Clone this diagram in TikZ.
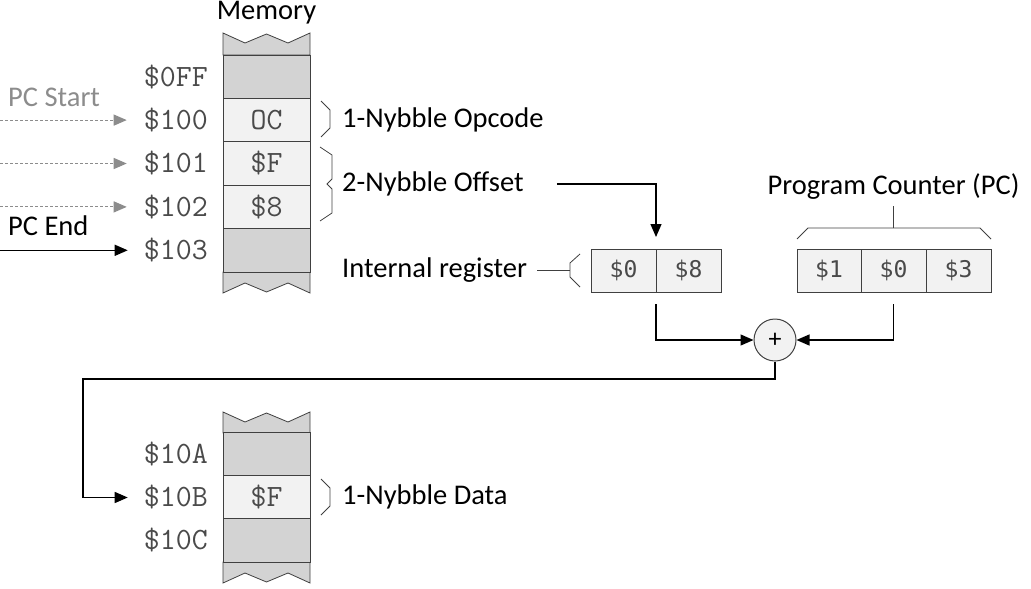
\documentclass[tikz,border=0pt]{standalone}
\usepackage{fontspec}
\setmainfont{Carlito}
\newfontfamily\regf{DejaVu Sans Mono}
\usetikzlibrary{arrows.meta}
\definecolor{dark}{HTML}{D3D3D3}
\definecolor{light}{HTML}{F2F2F2}
\definecolor{edge}{HTML}{404040}
\definecolor{txtg}{HTML}{4A4A4A}
\definecolor{pcgray}{HTML}{8C8C8C}
\begin{document}
\begin{tikzpicture}[x=1pt,y=-1pt,
 cell/.style={draw=edge, line width=1pt, minimum width=87pt, minimum height=43.4pt, inner sep=0pt, outer sep=0pt, font=\ttfamily\fontsize{31}{31}\selectfont, text=txtg},
 darkcell/.style={cell, fill=dark},
 lightcell/.style={cell, fill=light},
 addr/.style={anchor=east, inner sep=0pt, font=\ttfamily\fontsize{31}{31}\selectfont, text=txtg},
 lbl/.style={anchor=west, inner sep=0pt, font=\fontsize{28.5}{30}\selectfont},
 reg/.style={draw=edge, line width=1pt, fill=light, minimum height=43pt, inner sep=0pt, outer sep=0pt, font=\regf\fontsize{23}{23}\selectfont, text=txtg},
 band/.style={fill=dark, draw=edge, line width=0.8pt},
 arr/.style={-{Triangle[length=13pt,width=11pt]}, line width=1.3pt, draw=black},
 garr/.style={-{Triangle[length=13pt,width=11pt]}, line width=1.1pt, draw=pcgray, dash pattern=on 3pt off 2pt},
 thinl/.style={line width=1pt, draw=edge},
]
\useasboundingbox (0,0) rectangle (1031,589);

% ---------- top memory ----------
\node[font=\fontsize{28.5}{30}\selectfont] (memtitle) at (266.5,13) {Memory};
\path[band] (223,55) -- (223,33) -- (245,43) -- (266.5,34) -- (288,43) -- (310,33) -- (310,55) -- cycle;
\path[band] (223,272) -- (223,293) -- (245,283) -- (266.5,292) -- (288,283) -- (310,293) -- (310,272) -- cycle;
\node[darkcell]  (m0ff) at (266.5,76.7) {};
\node[lightcell] (m100) at (266.5,120.1) {OC};
\node[lightcell] (m101) at (266.5,163.5) {\$F};
\node[lightcell] (m102) at (266.5,206.9) {\$8};
\node[darkcell]  (m103) at (266.5,250.3) {};

\node[addr] (a0ff) at (208,76.7) {\$0FF};
\node[addr] (a100) at (208,120.1) {\$100};
\node[addr] (a101) at (208,163.5) {\$101};
\node[addr] (a102) at (208,206.9) {\$102};
\node[addr] (a103) at (208,250.3) {\$103};

\node[lbl, text=pcgray] (pcstart) at (8,97) {PC Start};
\node[lbl] (pcend) at (8,226) {PC End};

\coordinate (s100) at (0,120.1);
\coordinate (s101) at (0,163.5);
\coordinate (s102) at (0,206.9);
\coordinate (s103) at (0,250.3);
\draw[garr, shorten >=17pt] (s100) -- (a100.west);
\draw[garr, shorten >=17pt] (s101) -- (a101.west);
\draw[garr, shorten >=17pt] (s102) -- (a102.west);
\draw[arr, shorten >=16pt] (s103) -- (a103.west);

% braces
\draw[thinl, line width=0.8pt] (321,101) -- (330,110) -- (330,128) -- (321,137);
\draw[thinl, line width=0.8pt] (320,147) -- (332,155) -- (332,179) -- (327,184) -- (332,189) -- (332,213) -- (320,221);
\node[lbl] (opc) at (342,120) {1-Nybble Opcode};
\node[lbl] (off) at (342,184) {2-Nybble Offset};

% ---------- internal register ----------
\node[reg, minimum width=65pt] (r0) at (623.5,270.5) {\$0};
\node[reg, minimum width=65pt] (r8) at (688.5,270.5) {\$8};
\node[lbl] (intl) at (342,270) {Internal register};
\coordinate (brk) at (570,270);
\draw[thinl, shorten <=10pt] (intl.east) -- (brk);
\draw[thinl, line width=0.8pt] (580,254) -- (570,263) -- (570,277) -- (580,287);

\draw[arr, shorten <=33pt, shorten >=12pt] (off.east) -| (r8.north west);

% ---------- program counter ----------
\node[reg, minimum width=64pt] (p1) at (829,270.5) {\$1};
\node[reg, minimum width=65pt] (p0) at (893.5,270.5) {\$0};
\node[reg, minimum width=65pt] (p3) at (958.5,270.5) {\$3};
\node[font=\fontsize{28.5}{30}\selectfont, inner sep=0pt] (pctxt) at (893.5,187) {Program Counter (PC)};
\coordinate (pcb) at (893.5,228);
\draw[thinl, line width=0.8pt] (797,239) -- (808,228) -- (980,228) -- (991,239);
\draw[thinl, line width=0.8pt, shorten >=6pt] (pcb) -- (pctxt.south);

% ---------- adder ----------
\node[circle, draw=edge, line width=1pt, fill=light, minimum size=42pt, inner sep=0pt, font=\fontsize{26}{26}\selectfont] (plus) at (775,340) {+};
\draw[arr, shorten <=12pt] (r8.south west) |- (plus.west);
\draw[arr, shorten <=12pt] (p0.south) |- (plus.east);

% ---------- bottom memory ----------
\path[band] (223,433) -- (223,412) -- (245,422) -- (266.5,413) -- (288,422) -- (310,412) -- (310,433) -- cycle;
\path[band] (223,562) -- (223,583) -- (245,573) -- (266.5,582) -- (288,573) -- (310,583) -- (310,562) -- cycle;
\node[darkcell]  (m10a) at (266.5,454.5) {};
\node[lightcell] (m10b) at (266.5,497.5) {\$F};
\node[darkcell]  (m10c) at (266.5,540.5) {};
\node[addr] (a10a) at (208,454.5) {\$10A};
\node[addr] (a10b) at (208,497.5) {\$10B};
\node[addr] (a10c) at (208,540.5) {\$10C};
\draw[thinl, line width=0.8pt] (321,479) -- (330,488) -- (330,506) -- (321,515);
\node[lbl] (data) at (342,497) {1-Nybble Data};

\coordinate (loop) at (83,379);
\draw[arr, shorten >=16pt] (plus.south) |- (loop) |- (a10b.west);
\end{tikzpicture}
\end{document}
